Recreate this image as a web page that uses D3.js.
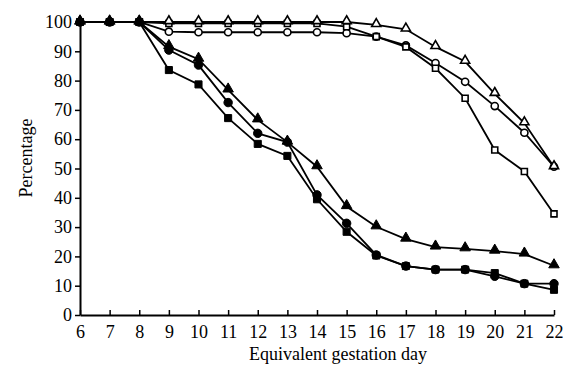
<!DOCTYPE html>
<html>
<head>
<meta charset="utf-8">
<script src="https://cdn.jsdelivr.net/npm/d3@7"></script>
<style>
  html, body { margin: 0; padding: 0; background: #fff; }
  text { font-family: "Liberation Serif", "DejaVu Serif", serif; fill: #000; }
</style>
</head>
<body>
<div id="chart"></div>
<script>
'use strict';

var days = [6, 7, 8, 9, 10, 11, 12, 13, 14, 15, 16, 17, 18, 19, 20, 21, 22];
var yTicks = [0, 10, 20, 30, 40, 50, 60, 70, 80, 90, 100];

// upper group (open symbols)
var openTriangle = [100, 100, 100, 100, 100, 100, 100, 100, 100, 100, 99, 97.5, 91.5, 86.5, 75.5, 65.5, 50.5];
var openSquare   = [100, 100, 100, 99.5, 99.5, 99.5, 99.5, 99.5, 99.5, 98.4, 95, 91.5, 84.2, 74, 56.3, 49, 34.5];
var openCircle   = [100, 100, 100, 96.7, 96.5, 96.5, 96.5, 96.5, 96.5, 96.2, 95, 92, 86, 79.6, 71.3, 62.2, 50.6];

// lower group (filled symbols)
var filledTriangle = [100, 100, 100, 91.6, 87.3, 76.8, 66.6, 59, 50.6, 37, 30.1, 25.9, 23.2, 22.6, 21.8, 20.8, 16.8];
var filledCircle   = [100, 100, 100, 90.4, 85.3, 72.5, 62, 59, 41, 31.3, 20.5, 16.7, 15.5, 15.5, 13.2, 10.7, 10.7];
var filledSquare   = [100, 100, 100, 83.6, 78.7, 67.2, 58.4, 54.3, 39.5, 28.4, 20.3, 16.7, 15.5, 15.5, 14.3, 10.7, 8.6];

// open ones first so the filled markers sit on top where they all meet at 100
var series = [
    { values: openCircle, shape: 'circle', filled: false },
    { values: openSquare, shape: 'square', filled: false },
    { values: openTriangle, shape: 'triangle', filled: false },
    { values: filledTriangle, shape: 'triangle', filled: true },
    { values: filledSquare, shape: 'square', filled: true },
    { values: filledCircle, shape: 'circle', filled: true }
];

var width = 573, height = 376;
var margin = { left: 80, right: 19, top: 22, bottom: 61 };

var x = d3.scaleLinear().domain([6, 22]).range([margin.left, width - margin.right]);
var y = d3.scaleLinear().domain([0, 100]).range([height - margin.bottom, margin.top]);

var svg = d3.select('#chart')
    .append('svg')
    .attr('width', width)
    .attr('height', height);

// axes
var xAxis = d3.axisBottom(x).tickValues(days).tickSizeInner(-5).tickSizeOuter(0).tickPadding(10);
var yAxis = d3.axisLeft(y).tickValues(yTicks).tickSizeInner(5).tickSizeOuter(0).tickPadding(3);

var gx = svg.append('g')
    .attr('transform', 'translate(0,' + y(0) + ')')
    .call(xAxis);
var gy = svg.append('g')
    .attr('transform', 'translate(' + x(6) + ',0)')
    .call(yAxis);

[gx, gy].forEach(function (g) {
    g.select('.domain').attr('stroke', '#000').attr('stroke-width', 2);
    g.selectAll('.tick line').attr('stroke', '#000').attr('stroke-width', 1.5);
    g.selectAll('.tick text')
        .style('font-family', '"Liberation Serif", serif')
        .style('font-size', '18px')
        .attr('fill', '#000');
});

// axis titles
svg.append('text')
    .attr('x', 338)
    .attr('y', 360)
    .attr('text-anchor', 'middle')
    .style('font-size', '18px')
    .text('Equivalent gestation day');

svg.append('text')
    .attr('transform', 'translate(32,158) rotate(-90)')
    .attr('text-anchor', 'middle')
    .style('font-size', '18px')
    .text('Percentage');

// lines
var line = d3.line()
    .x(function (d, i) { return x(days[i]); })
    .y(function (d) { return y(d); });

var plot = svg.append('g');

series.forEach(function (s) {
    plot.append('path')
        .datum(s.values)
        .attr('d', line)
        .attr('fill', 'none')
        .attr('stroke', '#000')
        .attr('stroke-width', 1.8);
});

// markers
var symbolType = { square: d3.symbolSquare, circle: d3.symbolCircle, triangle: d3.symbolTriangle };
var filledSize = { square: 50, circle: 56, triangle: 48 };
var openSize = { square: 36, circle: 40, triangle: 36 };

series.forEach(function (s) {
    var size = s.filled ? filledSize[s.shape] : openSize[s.shape];
    var sym = d3.symbol().type(symbolType[s.shape]).size(size);
    plot.append('g')
        .selectAll('path')
        .data(s.values)
        .enter()
        .append('path')
        .attr('d', sym)
        .attr('transform', function (d, i) {
            var dy = s.shape === 'triangle' ? -1 : 0;
            return 'translate(' + x(days[i]) + ',' + (y(d) + dy) + ')';
        })
        .attr('fill', s.filled ? '#000' : '#fff')
        .attr('stroke', '#000')
        .attr('stroke-width', s.filled ? 1 : 1.6);
});
</script>
</body>
</html>
